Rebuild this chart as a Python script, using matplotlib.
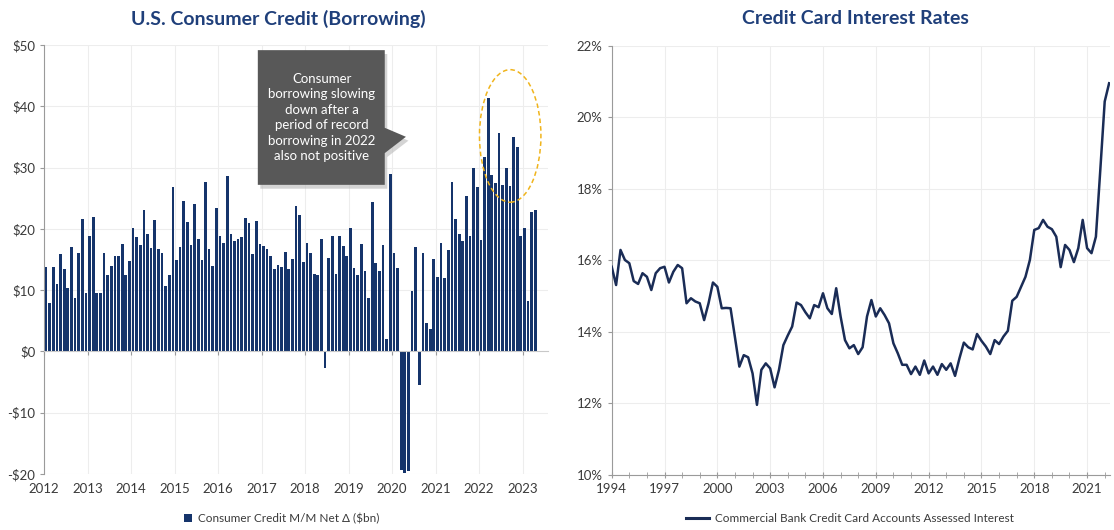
import numpy as np
import matplotlib

matplotlib.use("Agg")
import matplotlib.pyplot as plt
from matplotlib.patches import Ellipse, Polygon
from matplotlib.lines import Line2D
from matplotlib.patches import Patch

plt.rcParams["font.family"] = ["Lato", "DejaVu Sans"]

# Consumer credit, monthly change ($bn), Jan 2012 .. Apr 2023
credit_start = 2012
credit_vals = [
    13.8, 7.9, 13.8, 11.0, 15.9, 13.5, 10.3, 17.1, 8.7, 16.0, 21.6, 9.5,
    18.8, 22.0, 9.5, 9.5, 16.0, 12.4, 13.9, 15.5, 15.5, 17.5, 12.5, 14.7,
    20.2, 18.7, 17.4, 23.1, 19.1, 16.9, 21.5, 16.7, 16.0, 10.6, 12.5, 26.8,
    14.9, 17.1, 24.5, 21.1, 17.3, 24.1, 18.4, 14.9, 27.6, 16.7, 14.0, 23.4,
    18.8, 17.7, 28.7, 19.1, 18.0, 18.4, 18.6, 21.7, 20.9, 15.9, 21.3, 17.5,
    17.2, 16.7, 15.6, 13.5, 14.1, 13.8, 16.3, 13.4, 15.1, 23.8, 22.2, 14.6,
    17.7, 16.0, 12.7, 12.4, 18.4, -2.7, 15.3, 18.8, 12.7, 18.8, 17.2, 15.5,
    20.2, 13.6, 12.4, 17.5, 13.1, 8.7, 24.4, 14.4, 13.1, 17.3, 2.0, 28.9,
    16.0, 13.6, -19.3, -19.9, -19.5, 9.8, 17.1, -5.5, 16.1, 4.7, 3.6, 15.0,
    12.2, 17.7, 12.0, 16.5, 27.6, 21.6, 19.2, 18.0, 25.4, 18.8, 29.9, 26.9,
    18.1, 31.8, 41.3, 28.8, 27.5, 35.7, 27.2, 29.9, 27.0, 35.0, 33.4, 18.8,
    20.1, 8.2, 22.7, 23.0,
]
credit_years = list(range(2012, 2024))
credit_yticks = [-20, -10, 0, 10, 20, 30, 40, 50]

# Credit card interest rate (%), quarterly from 1994 Q1
rate_start = 1994
rate_vals = [
    15.82, 15.31, 16.29, 16.01, 15.92, 15.42, 15.34, 15.64, 15.54, 15.17,
    15.64, 15.78, 15.82, 15.38, 15.68, 15.87, 15.78, 14.80, 14.94, 14.85,
    14.80, 14.33, 14.80, 15.38, 15.26, 14.66, 14.67, 14.66, 13.85, 13.03,
    13.35, 13.29, 12.84, 11.96, 12.94, 13.12, 12.98, 12.45, 12.94, 13.63,
    13.90, 14.15, 14.82, 14.75, 14.55, 14.38, 14.75, 14.69, 15.08, 14.66,
    14.50, 15.22, 14.43, 13.77, 13.54, 13.63, 13.38, 13.57, 14.43, 14.89,
    14.43, 14.66, 14.47, 14.24, 13.68, 13.40, 13.08, 13.08, 12.82, 13.03,
    12.80, 13.20, 12.84, 13.03, 12.80, 13.10, 12.94, 13.12, 12.77, 13.26,
    13.70, 13.57, 13.51, 13.94, 13.75, 13.59, 13.38, 13.77, 13.66, 13.87,
    14.03, 14.87, 14.98, 15.26, 15.54, 16.01, 16.85, 16.90, 17.13, 16.94,
    16.87, 16.66, 15.81, 16.43, 16.29, 15.95, 16.34, 17.13, 16.34, 16.20,
    16.66, 18.53, 20.44, 20.95,
]
rate_major = list(range(1994, 2022, 3))
rate_yticks = [10, 12, 14, 16, 18, 20, 22]

BAR_C = "#15346b"
LINE_C = "#1a2c56"
TITLE_C = "#1f3f7a"
TXT_C = "#3a3a3a"
GRID_C = "#ededed"
SPINE_C = "#9a9a9a"

fig = plt.figure(figsize=(11.14, 5.30), dpi=100)

# ---- left: consumer credit bars
ax = fig.add_axes([0.0397, 0.1057, 0.4522, 0.8094])
xs = [credit_start + (i + 0.5) / 12 for i in range(len(credit_vals))]
ax.bar(xs, credit_vals, width=0.75 / 12, color=BAR_C, linewidth=0, zorder=3)
ax.set_xlim(2012, 2012 + 139 / 12)
ax.set_ylim(-20, 50)
ax.set_yticks(credit_yticks)
ax.set_yticklabels([f"${v}" if v >= 0 else f"-${-v}" for v in credit_yticks])
ax.set_xticks(credit_years)
ax.set_xticklabels([str(y) for y in credit_years])
ax.grid(True, color=GRID_C, linewidth=0.8, zorder=0)
for s in ["top", "right"]:
    ax.spines[s].set_visible(False)
ax.spines["left"].set_color(SPINE_C)
ax.spines["bottom"].set_position(("data", 0))
ax.spines["bottom"].set_color("#c8c8c8")
ax.spines["bottom"].set_zorder(4)
ax.tick_params(axis="y", colors=SPINE_C, labelcolor=TXT_C, labelsize=9.5, length=3)
ax.tick_params(axis="x", colors=SPINE_C, labelcolor=TXT_C, labelsize=9.5, length=3, pad=92)

# callout box (with a soft shadow)
callout = [(0.424, 0.988), (0.676, 0.988), (0.676, 0.807), (0.718, 0.786), (0.676, 0.748),
           (0.676, 0.674), (0.424, 0.674)]
shadow = [(x + 0.005, y - 0.009) for x, y in callout]
ax.add_patch(Polygon(shadow, closed=True, transform=ax.transAxes, facecolor="#b8b8b8",
                     edgecolor="none", alpha=0.6, zorder=5))
ax.add_patch(Polygon(callout, closed=True, transform=ax.transAxes, facecolor="#585858",
                     edgecolor="none", zorder=5))
ax.text(0.551, 0.831,
        "Consumer\nborrowing slowing\ndown after a\nperiod of record\nborrowing in 2022\nalso not positive",
        transform=ax.transAxes, ha="center", va="center", color="white", fontsize=9.5,
        linespacing=1.35, zorder=6)
ax.add_patch(Ellipse((0.925, 0.788), 0.122, 0.309, transform=ax.transAxes, fill=False,
                     edgecolor="#f0b41c", linestyle=(0, (3, 2)), linewidth=1.1, zorder=6))

# ---- right: credit card rates
ax2 = fig.add_axes([0.5491, 0.1038, 0.4473, 0.8100])
rx = [rate_start + 0.25 * k for k in range(len(rate_vals))]
ax2.plot(rx, rate_vals, color=LINE_C, linewidth=1.8, zorder=3)
ax2.set_xlim(1994, 2022.3)
ax2.set_ylim(10, 22)
ax2.set_yticks(rate_yticks)
ax2.set_yticklabels([f"{v}%" for v in rate_yticks])
ax2.set_xticks(rate_major)
ax2.set_xticks(list(range(1994, 2023)), minor=True)
ax2.grid(True, which="major", color=GRID_C, linewidth=0.8, zorder=0)
for s in ["top", "right"]:
    ax2.spines[s].set_visible(False)
ax2.spines["left"].set_color(SPINE_C)
ax2.spines["bottom"].set_color(SPINE_C)
ax2.tick_params(axis="y", colors=SPINE_C, labelcolor=TXT_C, labelsize=9.5, length=3)
ax2.tick_params(axis="x", which="both", colors=SPINE_C, labelcolor=TXT_C, labelsize=9.5,
                direction="inout", length=4)

# titles
fig.text(0.25, 0.965, "U.S. Consumer Credit (Borrowing)", ha="center", va="center",
         fontsize=14, fontweight="bold", color=TITLE_C)
fig.text(0.768, 0.965, "Credit Card Interest Rates", ha="center", va="center",
         fontsize=14, fontweight="bold", color=TITLE_C)

# legends
fig.legend(handles=[Patch(facecolor=BAR_C, label="Consumer Credit M/M Net Δ ($bn)")],
           loc="center", bbox_to_anchor=(0.253, 0.021), frameon=False, fontsize=8.5,
           handlelength=0.7, handleheight=0.7, handletextpad=0.5, labelcolor=TXT_C)
fig.legend(handles=[Line2D([], [], color=LINE_C, linewidth=2.2,
                           label="Commercial Bank Credit Card Accounts Assessed Interest")],
           loc="center", bbox_to_anchor=(0.763, 0.021), frameon=False, fontsize=8.5,
           handlelength=2.0, handletextpad=0.5, labelcolor=TXT_C)

fig.savefig("out.png", dpi=100)
